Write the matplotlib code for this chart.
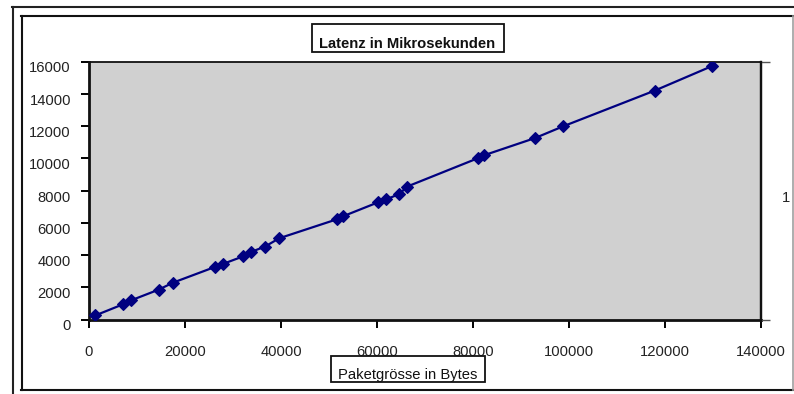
import matplotlib
matplotlib.use("Agg")
import matplotlib.pyplot as plt
import matplotlib.transforms as mtransforms
from matplotlib.patches import Rectangle
from matplotlib.lines import Line2D

plt.rcParams['font.family'] = ['Liberation Sans', 'DejaVu Sans']

# Measured latency per packet size
packet_bytes = [1300, 7150, 8700, 14500, 17550, 26250, 27850, 32150, 33750,
                36650, 39650, 51600, 53000, 60250, 61900, 64650, 66250,
                81000, 82350, 92900, 98700, 117900, 129750]
latency_us = [250, 950, 1180, 1850, 2290, 3260, 3440, 3920, 4190,
              4520, 5040, 6210, 6410, 7270, 7450, 7780, 8240,
              10000, 10190, 11250, 11970, 14200, 15710]

x_ticks = [0, 20000, 40000, 60000, 80000, 100000, 120000, 140000]
y_ticks = [0, 2000, 4000, 6000, 8000, 10000, 12000, 14000, 16000]
title_text = "Latenz in Mikrosekunden"
xlabel_text = "Paketgrösse in Bytes"
category_labels = ["1"]

W, H = 794, 394
FS = 10.6
fig = plt.figure(figsize=(W / 100, H / 100), dpi=100)
fig.patch.set_facecolor("white")


def fx(px):
    return px / W


def fy(py):
    return 1 - py / H


# plot area
left, right, top, bottom = 89, 761, 61.5, 319.5
ax = fig.add_axes([fx(left), fy(bottom), fx(right) - fx(left), fy(top) - fy(bottom)])
ax.set_facecolor("#D0D0D0")
ax.plot(packet_bytes, latency_us, color="#000080", linewidth=1.6,
        marker="D", markersize=6.5, markerfacecolor="#000080",
        markeredgecolor="#000080", markeredgewidth=0.8, zorder=3)
ax.set_xlim(0, 140000)
ax.set_ylim(0, 16000)
ax.set_xticks(x_ticks)
ax.set_xticklabels([str(v) for v in x_ticks])
ax.set_yticks(y_ticks)
ax.set_yticklabels([str(v) for v in y_ticks])
ax.tick_params(axis="y", direction="out", length=6, width=1.4,
               labelsize=FS, pad=7, colors="#000000", labelcolor="#222222")
ax.tick_params(axis="x", direction="out", length=6, width=1.4,
               labelsize=FS, pad=12, colors="#000000", labelcolor="#222222")
for side, lw in (("left", 2.0), ("bottom", 2.0), ("top", 1.3), ("right", 1.6)):
    ax.spines[side].set_linewidth(lw)
    ax.spines[side].set_color("#111111")

# value labels sit slightly below their tick marks
down = mtransforms.ScaledTranslation(0, -5.5 / 100, fig.dpi_scale_trans)
for lbl in ax.get_yticklabels():
    lbl.set_transform(lbl.get_transform() + down)

# secondary category axis on the right
ax2 = ax.twinx()
ax2.set_ylim(0, 2)
ax2.set_yticks([0, 2])
ax2.set_yticklabels(["", ""])
ax2.set_yticks([1], minor=True)
ax2.set_yticklabels(category_labels, minor=True)
ax2.tick_params(axis="y", which="major", direction="out", length=6.5,
                width=1.0, colors="#555555")
ax2.tick_params(axis="y", which="minor", length=0, pad=15,
                labelsize=FS, labelcolor="#222222")
for lbl in ax2.get_yticklabels(minor=True):
    lbl.set_transform(lbl.get_transform() + down)
for side in ("left", "bottom", "top"):
    ax2.spines[side].set_visible(False)
ax2.spines["right"].set_linewidth(1.6)
ax2.spines["right"].set_color("#111111")


def hline(y, x0, x1, color="#111111", lw=1.5):
    fig.add_artist(Line2D([fx(x0), fx(x1)], [fy(y), fy(y)], color=color,
                          linewidth=lw, transform=fig.transFigure))


def vline(x, y0, y1, color="#111111", lw=1.5):
    fig.add_artist(Line2D([fx(x), fx(x)], [fy(y0), fy(y1)], color=color,
                          linewidth=lw, transform=fig.transFigure))


# outer and inner chart frames
hline(7, 12, W, color="#222222")
vline(12.5, 7, H, color="#222222")
hline(16, 21, W, color="#111111")
vline(21.5, 16, 389.5, color="#111111")
hline(389.5, 21, W, color="#111111")
vline(792.5, 16, 389.5, color="#A0A0A0", lw=1.2)

# title box
fig.add_artist(Rectangle((fx(312), fy(52)), fx(504) - fx(312), fy(24) - fy(52),
                         transform=fig.transFigure, facecolor="white",
                         edgecolor="#111111", linewidth=1.3))
fig.text(fx(407.5), fy(43.5), title_text, ha="center", va="center",
         fontsize=FS, fontweight="bold", color="#111111")

# x-axis label box
fig.add_artist(Rectangle((fx(331), fy(382)), fx(485) - fx(331), fy(356) - fy(382),
                         transform=fig.transFigure, facecolor="white",
                         edgecolor="#111111", linewidth=1.3))
fig.text(fx(408), fy(374.5), xlabel_text, ha="center", va="center",
         fontsize=FS, color="#111111")

fig.savefig("out.png", dpi=100, facecolor="white")
